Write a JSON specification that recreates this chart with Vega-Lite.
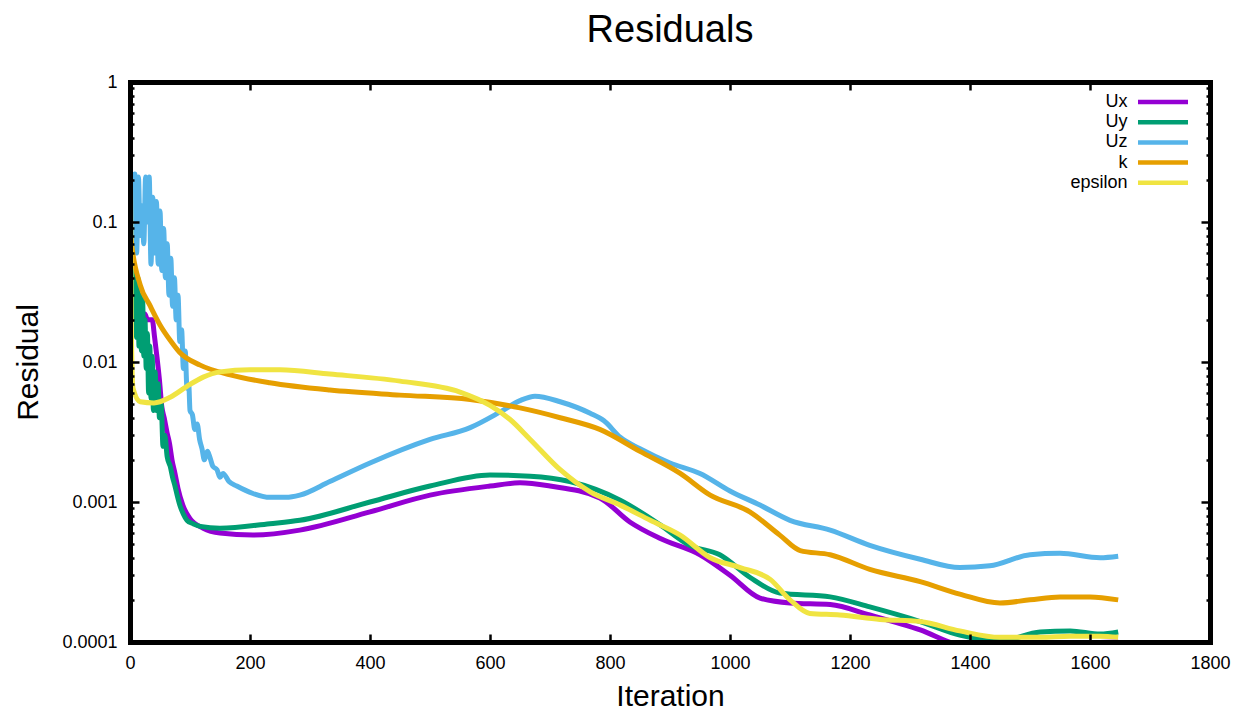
{
"$schema": "https://vega.github.io/schema/vega-lite/v6.json",
"width": 1080, "height": 560,
"autosize": {"type": "none"},
"padding": {"left": 130, "top": 82, "right": 26, "bottom": 68},
"background": "white",
"config": {"view": {"stroke": null}, "font": "Liberation Sans"},
"title": {"text": "Residuals", "fontSize": 38, "fontWeight": "normal", "font": "Liberation Sans", "color": "black", "anchor": "middle", "baseline": "alphabetic", "frame": "group", "offset": -7},
"data": {"values": [
{"series":"Ux","iter":1,"res":0.03},{"series":"Ux","iter":5,"res":0.022},{"series":"Ux","iter":9,"res":0.03},{"series":"Ux","iter":13,"res":0.022},{"series":"Ux","iter":17,"res":0.026},{"series":"Ux","iter":21,"res":0.021},{"series":"Ux","iter":25,"res":0.022},{"series":"Ux","iter":29,"res":0.02},{"series":"Ux","iter":33,"res":0.02},{"series":"Ux","iter":37,"res":0.02},{"series":"Ux","iter":41,"res":0.015},{"series":"Ux","iter":45,"res":0.0108},{"series":"Ux","iter":49,"res":0.0075},{"series":"Ux","iter":53,"res":0.0048},{"series":"Ux","iter":57,"res":0.004},{"series":"Ux","iter":62,"res":0.0031},{"series":"Ux","iter":66,"res":0.0026},{"series":"Ux","iter":70,"res":0.002},{"series":"Ux","iter":75,"res":0.0016},{"series":"Ux","iter":80,"res":0.00125},{"series":"Ux","iter":88,"res":0.00095},{"series":"Ux","iter":100,"res":0.00076},{"series":"Ux","iter":122,"res":0.00065},{"series":"Ux","iter":150,"res":0.0006},{"series":"Ux","iter":205,"res":0.00058},{"series":"Ux","iter":283,"res":0.00063},{"series":"Ux","iter":400,"res":0.00085},{"series":"Ux","iter":500,"res":0.00112},{"series":"Ux","iter":600,"res":0.0013},{"series":"Ux","iter":650,"res":0.00137},{"series":"Ux","iter":700,"res":0.0013},{"series":"Ux","iter":783,"res":0.00107},{"series":"Ux","iter":833,"res":0.00072},{"series":"Ux","iter":883,"res":0.00055},{"series":"Ux","iter":950,"res":0.00042},{"series":"Ux","iter":1000,"res":0.0003},{"series":"Ux","iter":1050,"res":0.000206},{"series":"Ux","iter":1100,"res":0.00019},{"series":"Ux","iter":1167,"res":0.000185},{"series":"Ux","iter":1233,"res":0.000156},{"series":"Ux","iter":1317,"res":0.000122},{"series":"Ux","iter":1383,"res":0.000095},{"series":"Ux","iter":1450,"res":0.00009},{"series":"Ux","iter":1550,"res":0.000097},{"series":"Ux","iter":1647,"res":0.0001},
{"series":"Uy","iter":1,"res":0.04},{"series":"Uy","iter":3,"res":0.025},{"series":"Uy","iter":5,"res":0.05},{"series":"Uy","iter":7,"res":0.02},{"series":"Uy","iter":9,"res":0.045},{"series":"Uy","iter":11,"res":0.015},{"series":"Uy","iter":13,"res":0.04},{"series":"Uy","iter":15,"res":0.013},{"series":"Uy","iter":17,"res":0.03},{"series":"Uy","iter":19,"res":0.012},{"series":"Uy","iter":21,"res":0.028},{"series":"Uy","iter":23,"res":0.011},{"series":"Uy","iter":25,"res":0.02},{"series":"Uy","iter":27,"res":0.009},{"series":"Uy","iter":29,"res":0.016},{"series":"Uy","iter":31,"res":0.006},{"series":"Uy","iter":33,"res":0.013},{"series":"Uy","iter":35,"res":0.0055},{"series":"Uy","iter":37,"res":0.011},{"series":"Uy","iter":39,"res":0.0045},{"series":"Uy","iter":42,"res":0.0085},{"series":"Uy","iter":44,"res":0.0045},{"series":"Uy","iter":47,"res":0.007},{"series":"Uy","iter":49,"res":0.004},{"series":"Uy","iter":52,"res":0.005},{"series":"Uy","iter":55,"res":0.0025},{"series":"Uy","iter":58,"res":0.003},{"series":"Uy","iter":62,"res":0.0021},{"series":"Uy","iter":67,"res":0.0018},{"series":"Uy","iter":71,"res":0.0015},{"series":"Uy","iter":75,"res":0.0013},{"series":"Uy","iter":79,"res":0.0011},{"series":"Uy","iter":83,"res":0.00095},{"series":"Uy","iter":89,"res":0.00082},{"series":"Uy","iter":95,"res":0.00074},{"series":"Uy","iter":105,"res":0.0007},{"series":"Uy","iter":117,"res":0.00067},{"series":"Uy","iter":150,"res":0.00065},{"series":"Uy","iter":233,"res":0.0007},{"series":"Uy","iter":283,"res":0.00074},{"series":"Uy","iter":400,"res":0.001},{"series":"Uy","iter":500,"res":0.0013},{"series":"Uy","iter":600,"res":0.00156},{"series":"Uy","iter":667,"res":0.00153},{"series":"Uy","iter":733,"res":0.0014},{"series":"Uy","iter":817,"res":0.00103},{"series":"Uy","iter":883,"res":0.00069},{"series":"Uy","iter":933,"res":0.00049},{"series":"Uy","iter":983,"res":0.00042},{"series":"Uy","iter":1033,"res":0.00029},{"series":"Uy","iter":1083,"res":0.000224},{"series":"Uy","iter":1167,"res":0.00021},{"series":"Uy","iter":1233,"res":0.000178},{"series":"Uy","iter":1317,"res":0.00014},{"series":"Uy","iter":1383,"res":0.000112},{"series":"Uy","iter":1450,"res":0.000102},{"series":"Uy","iter":1517,"res":0.000118},{"series":"Uy","iter":1567,"res":0.00012},{"series":"Uy","iter":1617,"res":0.000114},{"series":"Uy","iter":1647,"res":0.000118},
{"series":"Uz","iter":1,"res":0.04},{"series":"Uz","iter":3,"res":0.22},{"series":"Uz","iter":6,"res":0.07},{"series":"Uz","iter":8,"res":0.22},{"series":"Uz","iter":11,"res":0.06},{"series":"Uz","iter":14,"res":0.21},{"series":"Uz","iter":17,"res":0.08},{"series":"Uz","iter":20,"res":0.13},{"series":"Uz","iter":23,"res":0.07},{"series":"Uz","iter":26,"res":0.21},{"series":"Uz","iter":29,"res":0.1},{"series":"Uz","iter":32,"res":0.21},{"series":"Uz","iter":35,"res":0.05},{"series":"Uz","iter":38,"res":0.15},{"series":"Uz","iter":41,"res":0.06},{"series":"Uz","iter":44,"res":0.14},{"series":"Uz","iter":47,"res":0.05},{"series":"Uz","iter":50,"res":0.12},{"series":"Uz","iter":53,"res":0.045},{"series":"Uz","iter":56,"res":0.09},{"series":"Uz","iter":59,"res":0.04},{"series":"Uz","iter":62,"res":0.07},{"series":"Uz","iter":65,"res":0.03},{"series":"Uz","iter":68,"res":0.055},{"series":"Uz","iter":71,"res":0.025},{"series":"Uz","iter":74,"res":0.04},{"series":"Uz","iter":77,"res":0.02},{"series":"Uz","iter":80,"res":0.03},{"series":"Uz","iter":83,"res":0.014},{"series":"Uz","iter":86,"res":0.017},{"series":"Uz","iter":89,"res":0.009},{"series":"Uz","iter":92,"res":0.012},{"series":"Uz","iter":95,"res":0.0065},{"series":"Uz","iter":98,"res":0.0068},{"series":"Uz","iter":100,"res":0.0045},{"series":"Uz","iter":104,"res":0.0042},{"series":"Uz","iter":108,"res":0.0033},{"series":"Uz","iter":112,"res":0.0036},{"series":"Uz","iter":116,"res":0.0028},{"series":"Uz","iter":120,"res":0.0024},{"series":"Uz","iter":124,"res":0.002},{"series":"Uz","iter":129,"res":0.0023},{"series":"Uz","iter":133,"res":0.0021},{"series":"Uz","iter":138,"res":0.0018},{"series":"Uz","iter":145,"res":0.0017},{"series":"Uz","iter":150,"res":0.0015},{"series":"Uz","iter":155,"res":0.0016},{"series":"Uz","iter":165,"res":0.0014},{"series":"Uz","iter":178,"res":0.0013},{"series":"Uz","iter":205,"res":0.00115},{"series":"Uz","iter":233,"res":0.00108},{"series":"Uz","iter":260,"res":0.00108},{"series":"Uz","iter":283,"res":0.00112},{"series":"Uz","iter":333,"res":0.0014},{"series":"Uz","iter":400,"res":0.0019},{"series":"Uz","iter":500,"res":0.0028},{"series":"Uz","iter":567,"res":0.0034},{"series":"Uz","iter":617,"res":0.0044},{"series":"Uz","iter":650,"res":0.0053},{"series":"Uz","iter":675,"res":0.0057},{"series":"Uz","iter":717,"res":0.0052},{"series":"Uz","iter":767,"res":0.0043},{"series":"Uz","iter":790,"res":0.0038},{"series":"Uz","iter":817,"res":0.0029},{"series":"Uz","iter":850,"res":0.0024},{"series":"Uz","iter":900,"res":0.0019},{"series":"Uz","iter":950,"res":0.0016},{"series":"Uz","iter":1000,"res":0.0012},{"series":"Uz","iter":1050,"res":0.00095},{"series":"Uz","iter":1100,"res":0.00074},{"series":"Uz","iter":1167,"res":0.00063},{"series":"Uz","iter":1233,"res":0.00049},{"series":"Uz","iter":1317,"res":0.00039},{"series":"Uz","iter":1383,"res":0.00034},{"series":"Uz","iter":1433,"res":0.00035},{"series":"Uz","iter":1500,"res":0.00042},{"series":"Uz","iter":1550,"res":0.00043},{"series":"Uz","iter":1617,"res":0.0004},{"series":"Uz","iter":1647,"res":0.00041},
{"series":"k","iter":0,"res":1},{"series":"k","iter":1,"res":0.08},{"series":"k","iter":17,"res":0.0355},{"series":"k","iter":33,"res":0.0255},{"series":"k","iter":50,"res":0.0184},{"series":"k","iter":67,"res":0.0143},{"series":"k","iter":83,"res":0.0117},{"series":"k","iter":117,"res":0.0095},{"series":"k","iter":167,"res":0.0081},{"series":"k","iter":233,"res":0.0071},{"series":"k","iter":333,"res":0.0063},{"series":"k","iter":450,"res":0.0058},{"series":"k","iter":567,"res":0.0054},{"series":"k","iter":650,"res":0.0047},{"series":"k","iter":717,"res":0.004},{"series":"k","iter":783,"res":0.0033},{"series":"k","iter":850,"res":0.0023},{"series":"k","iter":917,"res":0.0016},{"series":"k","iter":967,"res":0.00112},{"series":"k","iter":1033,"res":0.00085},{"series":"k","iter":1083,"res":0.00058},{"series":"k","iter":1117,"res":0.00045},{"series":"k","iter":1167,"res":0.00042},{"series":"k","iter":1233,"res":0.00033},{"series":"k","iter":1317,"res":0.00027},{"series":"k","iter":1383,"res":0.00022},{"series":"k","iter":1450,"res":0.00019},{"series":"k","iter":1500,"res":0.0002},{"series":"k","iter":1550,"res":0.00021},{"series":"k","iter":1600,"res":0.00021},{"series":"k","iter":1647,"res":0.0002},
{"series":"epsilon","iter":0,"res":1},{"series":"epsilon","iter":2,"res":0.02},{"series":"epsilon","iter":5,"res":0.0065},{"series":"epsilon","iter":17,"res":0.0052},{"series":"epsilon","iter":40,"res":0.0051},{"series":"epsilon","iter":67,"res":0.0056},{"series":"epsilon","iter":95,"res":0.0067},{"series":"epsilon","iter":122,"res":0.0078},{"series":"epsilon","iter":150,"res":0.0085},{"series":"epsilon","iter":200,"res":0.0088},{"series":"epsilon","iter":250,"res":0.0088},{"series":"epsilon","iter":333,"res":0.0082},{"series":"epsilon","iter":450,"res":0.0073},{"series":"epsilon","iter":550,"res":0.0061},{"series":"epsilon","iter":600,"res":0.0049},{"series":"epsilon","iter":633,"res":0.0039},{"series":"epsilon","iter":667,"res":0.0028},{"series":"epsilon","iter":717,"res":0.0017},{"series":"epsilon","iter":767,"res":0.00118},{"series":"epsilon","iter":817,"res":0.00095},{"series":"epsilon","iter":867,"res":0.00074},{"series":"epsilon","iter":917,"res":0.00058},{"series":"epsilon","iter":967,"res":0.0004},{"series":"epsilon","iter":1017,"res":0.00034},{"series":"epsilon","iter":1067,"res":0.00028},{"series":"epsilon","iter":1100,"res":0.0002},{"series":"epsilon","iter":1133,"res":0.00016},{"series":"epsilon","iter":1183,"res":0.000156},{"series":"epsilon","iter":1250,"res":0.000145},{"series":"epsilon","iter":1317,"res":0.00014},{"series":"epsilon","iter":1383,"res":0.00012},{"series":"epsilon","iter":1450,"res":0.000108},{"series":"epsilon","iter":1517,"res":0.000108},{"series":"epsilon","iter":1567,"res":0.00011},{"series":"epsilon","iter":1617,"res":0.00011},{"series":"epsilon","iter":1647,"res":0.000108}
]},
"layer": [
{
"encoding": {
"x": {"field": "iter", "type": "quantitative", "scale": {"domain": [0, 1800], "nice": false, "zero": false},
 "axis": {"orient": "bottom", "values": [0,200,400,600,800,1000,1200,1400,1600,1800], "format": "d", "title": "Iteration", "titleFontSize": 30, "titleFontWeight": "normal", "titleColor": "black", "titleBaseline": "alphabetic", "titleY": 63, "labelFontSize": 18, "labelColor": "black", "labelFlush": false, "labelOverlap": false, "labelPadding": 20, "domainColor": "black", "domainWidth": 5, "domainCap": "square", "tickColor": "black", "tickWidth": 2.5, "tickSize": -8, "grid": false, "zindex": 1}},
"y": {"field": "res", "type": "quantitative", "scale": {"type": "log", "domain": [0.0001, 1], "nice": false},
 "axis": {"orient": "left", "values": [1,0.9,0.8,0.7,0.6,0.5,0.4,0.3,0.2,0.1,0.09,0.08,0.07,0.06,0.05,0.04,0.03,0.02,0.01,0.009,0.008,0.007,0.006,0.005,0.004,0.003,0.002,0.001,0.0009,0.0008,0.0007,0.0006,0.0005,0.0004,0.0003,0.0002,0.0001],
 "labelExpr": "indexof([1,0.1,0.01,0.001,0.0001], datum.value) >= 0 ? format(datum.value, '~g') : ''",
 "title": "Residual", "titleFontSize": 30, "titleFontWeight": "normal", "titleColor": "black", "titleAngle": -90, "titleBaseline": "alphabetic", "titleAlign": "center", "titleX": -93, "titleY": 280,
 "labelFontSize": 18, "labelColor": "black", "labelOverlap": false, "labelFlush": false, "labelPadding": 22, "domainColor": "black", "domainWidth": 5, "domainCap": "square", "tickColor": "black", "tickWidth": 2.5,
 "tickSize": {"condition": {"test": "indexof([1,0.1,0.01,0.001,0.0001], datum.value) >= 0", "value": -9}, "value": -4}, "grid": false, "zindex": 1}},
"color": {"field": "series", "type": "nominal", "scale": {"domain": ["Ux","Uy","Uz","k","epsilon"], "range": ["#9400d3","#009e73","#56b4e9","#e69f00","#f0e442"]},
 "legend": {"orient": "none", "legendX": 1024, "legendY": 11, "title": null, "symbolType": "M-5,0H5", "symbolSize": 100, "symbolStrokeWidth": 4.5, "labelAlign": "right", "labelOffset": -44.5, "labelFontSize": 18, "labelColor": "black", "rowPadding": 2.2, "padding": 0}}
},
"layer": [
{"transform": [{"filter": "datum.series === 'Ux'"}], "mark": {"type": "line", "strokeWidth": 5, "clip": true, "interpolate": "monotone"}},
{"transform": [{"filter": "datum.series === 'Uy'"}], "mark": {"type": "line", "strokeWidth": 5, "clip": true, "interpolate": "monotone"}},
{"transform": [{"filter": "datum.series === 'Uz'"}], "mark": {"type": "line", "strokeWidth": 5, "clip": true, "interpolate": "monotone"}},
{"transform": [{"filter": "datum.series === 'k'"}], "mark": {"type": "line", "strokeWidth": 5, "clip": true, "interpolate": "monotone"}},
{"transform": [{"filter": "datum.series === 'epsilon'"}], "mark": {"type": "line", "strokeWidth": 5, "clip": true, "interpolate": "monotone"}}
]
},
{
"mark": {"type": "point", "opacity": 0},
"encoding": {
"x": {"field": "iter", "type": "quantitative",
 "axis": {"orient": "top", "values": [0,200,400,600,800,1000,1200,1400,1600,1800], "labels": false, "title": null, "domainColor": "black", "domainWidth": 5, "domainCap": "square", "tickColor": "black", "tickWidth": 2.5, "tickSize": -8, "grid": false, "zindex": 1}},
"y": {"field": "res", "type": "quantitative",
 "axis": {"orient": "right", "values": [1,0.9,0.8,0.7,0.6,0.5,0.4,0.3,0.2,0.1,0.09,0.08,0.07,0.06,0.05,0.04,0.03,0.02,0.01,0.009,0.008,0.007,0.006,0.005,0.004,0.003,0.002,0.001,0.0009,0.0008,0.0007,0.0006,0.0005,0.0004,0.0003,0.0002,0.0001], "labels": false, "title": null, "domainColor": "black", "domainWidth": 5, "domainCap": "square", "tickColor": "black", "tickWidth": 2.5,
 "tickSize": {"condition": {"test": "indexof([1,0.1,0.01,0.001,0.0001], datum.value) >= 0", "value": -9}, "value": -4}, "grid": false, "zindex": 1}}
}
}
],
"resolve": {"axis": {"x": "independent", "y": "independent"}}
}
